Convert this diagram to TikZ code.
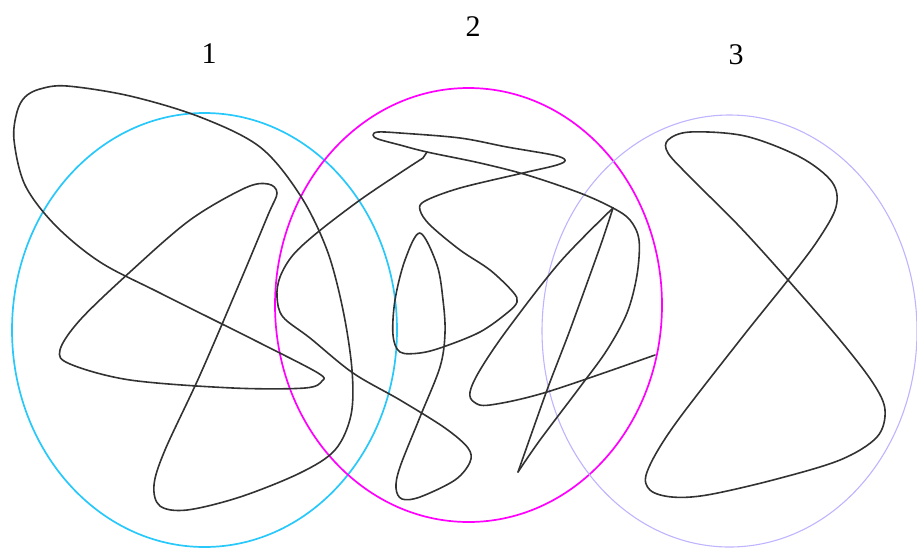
\documentclass[tikz,border=0pt]{standalone}
\usepackage{fontspec}
\setmainfont{Liberation Serif}
\definecolor{cyanring}{RGB}{40,200,250}
\definecolor{magring}{RGB}{255,0,255}
\definecolor{lavring}{RGB}{190,180,255}
\definecolor{curvecol}{RGB}{50,50,50}
\tikzset{
  ring/.style={line width=1.7pt},
  wiggle/.style={draw=curvecol, line width=1.6pt, line join=round, line cap=round},
  numlabel/.style={inner sep=0pt, font=\fontsize{30}{30}\selectfont}
}
\begin{document}
\begin{tikzpicture}[x=1pt,y=-1pt]
\useasboundingbox (0,0) rectangle (917,547);
% rings
\draw[ring, cyanring] (204.5,330) ellipse [x radius=192.5, y radius=217];
\draw[ring, magring] (468.5,305) ellipse [x radius=193.5, y radius=217];
\draw[lavring, line width=1.1pt] (729.5,331) ellipse [x radius=187.5, y radius=216];
% labels
\node[numlabel] (l1) at (209,54) {1};
\node[numlabel] (l2) at (473,27) {2};
\node[numlabel] (l3) at (736,55) {3};
% curve 1 (closed)
\draw[wiggle] plot[smooth cycle, tension=0.55] coordinates {
 (40,89) (67,86) (130,96) (200,117) (260,147) (300,195) (327,250)
 (343,310) (352,370) (351,415) (335,450) (300,473) (240,497) (187,510)
 (160,506) (154,485) (165,450) (200,375) (240,282) (268,215) (277,193)
 (268,184) (245,188) (190,220) (130,272) (80,320) (60,350) (70,364)
 (130,380) (233,388) (305,388) (322,381) (318,373) (260,343) (160,293)
 (100,262) (55,225) (25,185) (14,140) (17,112) (25,97)};
% curve 2 (open)
\draw[wiggle] (427,152) -- (423,158);
\draw[wiggle] plot[smooth, tension=0.55] coordinates {
 (423,158) (400,173) (360,200) (318,232) (293,255) (280,277) (277,297)
 (283,317) (310,338) (353,373) (400,400) (445,428) (468,448)
 (470,462) (455,480) (420,497) (402,499) (396,488) (400,467)
 (420,417) (440,367) (445,333) (443,300) (437,265) (420,233)
 (405,260) (395,300) (393,335) (400,352) (420,353) (443,347)
 (480,332) (507,313) (517,302) (513,292) (490,270) (460,250) (430,225)
 (420,210) (425,201) (460,188) (523,173) (557,165) (565,160) (553,155)
 (507,147) (460,138) (400,133) (378,132) (373,135) (378,139) (400,145)
 (427,152) (480,163) (527,175) (580,193) (613,208) (630,220) (639,240)
 (637,275) (627,313) (607,350) (580,387) (540,440) (518,472)};
\draw[wiggle] plot[smooth, tension=0.4] coordinates {
 (518,472) (547,390) (570,330) (600,247) (613,208)};
\draw[wiggle] plot[smooth, tension=0.55] coordinates {
 (613,208) (560,262) (507,330) (480,370) (470,392)
 (474,402) (490,405) (547,392) (655,355)};
% curve 3 (closed)
\draw[wiggle] plot[smooth cycle, tension=0.55] coordinates {
 (668,140) (690,132) (745,136) (800,157) (832,182) (836,207) (818,240)
 (788,280) (740,340) (673,427) (647,472) (650,490) (672,497) (707,495)
 (773,480) (840,460) (877,437) (885,410) (873,383) (840,340) (788,280)
 (740,227) (690,177) (668,153)};
\end{tikzpicture}
\end{document}
